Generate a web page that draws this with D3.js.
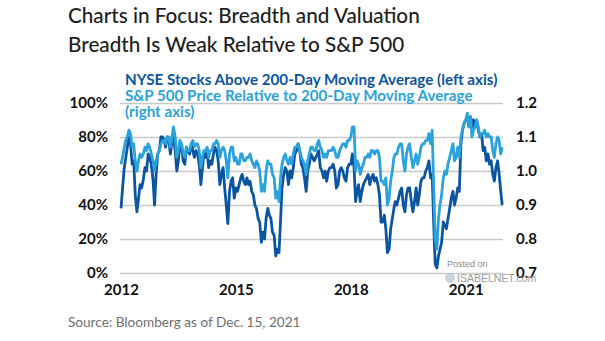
<!DOCTYPE html>
<html>
<head>
<meta charset="utf-8">
<script src="https://cdn.jsdelivr.net/npm/d3@7"></script>
<style>
  body { margin: 0; background: #fff; }
  svg { display: block; font-family: Lato, "Open Sans", sans-serif; }
</style>
</head>
<body>
<svg id="chart" width="605" height="341"></svg>
<script>
// semi-monthly samples
const dates = [
  "2012-01-01","2012-01-16","2012-02-01","2012-02-16","2012-03-01","2012-03-16","2012-04-01","2012-04-16","2012-05-01","2012-05-16","2012-06-01","2012-06-16",
  "2012-07-01","2012-07-16","2012-08-01","2012-08-16","2012-09-01","2012-09-16","2012-10-01","2012-10-16","2012-11-01","2012-11-16","2012-12-01","2012-12-16",
  "2013-01-01","2013-01-16","2013-02-01","2013-02-16","2013-03-01","2013-03-16","2013-04-01","2013-04-16","2013-05-01","2013-05-16","2013-06-01","2013-06-16",
  "2013-07-01","2013-07-16","2013-08-01","2013-08-16","2013-09-01","2013-09-16","2013-10-01","2013-10-16","2013-11-01","2013-11-16","2013-12-01","2013-12-16",
  "2014-01-01","2014-01-16","2014-02-01","2014-02-16","2014-03-01","2014-03-16","2014-04-01","2014-04-16","2014-05-01","2014-05-16","2014-06-01","2014-06-16",
  "2014-07-01","2014-07-16","2014-08-01","2014-08-16","2014-09-01","2014-09-16","2014-10-01","2014-10-16","2014-11-01","2014-11-16","2014-12-01","2014-12-16",
  "2015-01-01","2015-01-16","2015-02-01","2015-02-16","2015-03-01","2015-03-16","2015-04-01","2015-04-16","2015-05-01","2015-05-16","2015-06-01","2015-06-16",
  "2015-07-01","2015-07-16","2015-08-01","2015-08-16","2015-09-01","2015-09-16","2015-10-01","2015-10-16","2015-11-01","2015-11-16","2015-12-01","2015-12-16",
  "2016-01-01","2016-01-16","2016-02-01","2016-02-16","2016-03-01","2016-03-16","2016-04-01","2016-04-16","2016-05-01","2016-05-16","2016-06-01","2016-06-16",
  "2016-07-01","2016-07-16","2016-08-01","2016-08-16","2016-09-01","2016-09-16","2016-10-01","2016-10-16","2016-11-01","2016-11-16","2016-12-01","2016-12-16",
  "2017-01-01","2017-01-16","2017-02-01","2017-02-16","2017-03-01","2017-03-16","2017-04-01","2017-04-16","2017-05-01","2017-05-16","2017-06-01","2017-06-16",
  "2017-07-01","2017-07-16","2017-08-01","2017-08-16","2017-09-01","2017-09-16","2017-10-01","2017-10-16","2017-11-01","2017-11-16","2017-12-01","2017-12-16",
  "2018-01-01","2018-01-16","2018-02-01","2018-02-16","2018-03-01","2018-03-16","2018-04-01","2018-04-16","2018-05-01","2018-05-16","2018-06-01","2018-06-16",
  "2018-07-01","2018-07-16","2018-08-01","2018-08-16","2018-09-01","2018-09-16","2018-10-01","2018-10-16","2018-11-01","2018-11-16","2018-12-01","2018-12-16",
  "2019-01-01","2019-01-16","2019-02-01","2019-02-16","2019-03-01","2019-03-16","2019-04-01","2019-04-16","2019-05-01","2019-05-16","2019-06-01","2019-06-16",
  "2019-07-01","2019-07-16","2019-08-01","2019-08-16","2019-09-01","2019-09-16","2019-10-01","2019-10-16","2019-11-01","2019-11-16","2019-12-01","2019-12-16",
  "2020-01-01","2020-01-16","2020-02-01","2020-02-16","2020-03-01","2020-03-16","2020-04-01","2020-04-16","2020-05-01","2020-05-16","2020-06-01","2020-06-16",
  "2020-07-01","2020-07-16","2020-08-01","2020-08-16","2020-09-01","2020-09-16","2020-10-01","2020-10-16","2020-11-01","2020-11-16","2020-12-01","2020-12-16",
  "2021-01-01","2021-01-16","2021-02-01","2021-02-16","2021-03-01","2021-03-16","2021-04-01","2021-04-16","2021-05-01","2021-05-16","2021-06-01","2021-06-16",
  "2021-07-01","2021-07-16","2021-08-01","2021-08-16","2021-09-01","2021-09-16","2021-10-01","2021-10-16","2021-11-01","2021-11-16","2021-12-01","2021-12-15"
];

// NYSE stocks above 200-day MA, % (left axis)
const nyseAbove200 = [
  38,50,62,68,74,80,76,64,66,46,36,44, 52,50,55,62,60,70,68,64,55,40,58,70,
  72,80,80,78,74,80,78,70,77,80,72,60, 66,76,74,66,64,74,72,70,76,72,68,72,
  70,64,52,62,70,68,72,62,66,64,70,74, 72,66,52,58,62,50,40,29,48,54,56,44,
  50,48,52,56,58,54,52,56,52,54,48,46, 40,38,32,30,18,24,20,32,38,34,32,24,
  22,10,14,12,30,50,58,62,60,52,60,56, 62,70,72,76,72,64,62,56,48,60,64,70,
  68,66,68,70,72,62,60,56,60,54,60,62, 62,64,60,50,52,60,62,60,56,54,62,64,
  64,70,62,42,48,52,42,48,52,54,56,58, 52,56,58,54,56,52,46,30,30,34,26,12,
  14,26,32,38,42,40,44,48,50,40,36,46, 50,50,42,36,42,50,40,46,54,56,56,60,
  62,66,56,58,30,5,3,10,14,18,30,28, 26,32,38,44,48,40,44,50,48,76,84,88,
  90,92,86,92,84,90,86,90,84,80,82,72, 74,66,70,64,66,58,54,62,66,58,48,40
];

// S&P 500 price / 200-day MA (right axis)
const spxRel200 = [
  1.02,1.04,1.07,1.09,1.10,1.12,1.11,1.07,1.08,1.03,1.00,1.03, 1.05,1.04,1.05,1.07,1.06,1.08,1.07,1.05,1.03,1.00,1.03,1.05,
  1.06,1.08,1.09,1.09,1.08,1.10,1.10,1.07,1.10,1.13,1.10,1.04, 1.06,1.09,1.08,1.05,1.04,1.07,1.06,1.06,1.08,1.09,1.07,1.08,
  1.08,1.06,1.01,1.04,1.06,1.06,1.07,1.04,1.06,1.06,1.08,1.08, 1.09,1.08,1.04,1.06,1.07,1.06,1.03,0.98,1.05,1.07,1.07,1.03,
  1.04,1.02,1.02,1.05,1.05,1.03,1.03,1.04,1.04,1.05,1.03,1.02, 1.01,1.03,1.02,1.00,0.94,0.96,0.94,1.00,1.03,1.02,1.02,0.99,
  0.98,0.92,0.94,0.91,0.98,1.02,1.04,1.05,1.03,1.02,1.04,1.02, 1.05,1.07,1.07,1.08,1.06,1.04,1.03,1.02,0.99,1.03,1.05,1.07,
  1.07,1.06,1.06,1.08,1.09,1.07,1.06,1.04,1.05,1.04,1.06,1.06, 1.06,1.07,1.06,1.04,1.04,1.06,1.07,1.08,1.08,1.07,1.09,1.09,
  1.10,1.13,1.13,1.00,1.03,1.02,0.99,1.01,1.02,1.04,1.04,1.05, 1.04,1.06,1.06,1.05,1.06,1.06,1.04,0.97,0.97,0.96,0.98,0.90,
  0.92,0.97,1.00,1.04,1.05,1.05,1.07,1.08,1.08,1.03,1.00,1.05, 1.07,1.08,1.04,1.01,1.03,1.05,1.02,1.04,1.07,1.08,1.08,1.09,
  1.09,1.11,1.08,1.12,0.96,0.80,0.77,0.86,0.90,0.93,0.98,1.00, 0.99,1.02,1.04,1.06,1.08,1.03,1.04,1.07,1.04,1.10,1.12,1.14,
  1.15,1.17,1.13,1.16,1.10,1.12,1.13,1.15,1.13,1.10,1.11,1.11, 1.12,1.10,1.11,1.10,1.10,1.06,1.04,1.08,1.10,1.09,1.05,1.07
];

const leftTicks = [0, 20, 40, 60, 80, 100];
const rightTicks = [0.7, 0.8, 0.9, 1.0, 1.1, 1.2];
const yearTicks = ["2012-01-01", "2015-01-01", "2018-01-01", "2021-01-01"];

const titleLines = ["Charts in Focus: Breadth and Valuation", "Breadth Is Weak Relative to S&P 500"];
const legendLines = [
  { text: "NYSE Stocks Above 200-Day Moving Average (left axis)", series: "nyse" },
  { text: "S&P 500 Price Relative to 200-Day Moving Average", series: "spx" },
  { text: "(right axis)", series: "spx" }
];
const sourceText = "Source: Bloomberg as of Dec. 15, 2021";

const colors = { nyse: "#0b55a0", spx: "#2ba2dc" };

const svg = d3.select("#chart");
const parse = d3.timeParse("%Y-%m-%d");

const nyse = dates.map((d, i) => ({ date: parse(d), v: nyseAbove200[i] }));
const spx = dates.map((d, i) => ({ date: parse(d), v: spxRel200[i] }));

const x = d3.scaleTime()
  .domain([parse("2012-01-01"), parse("2022-01-01")])
  .range([121, 504]);
const yL = d3.scaleLinear().domain([0, 100]).range([273, 103]);
const yR = d3.scaleLinear().domain([0.7, 1.2]).range([273, 103]);

svg.append("rect").attr("width", 605).attr("height", 341).attr("fill", "#fff");

// gridlines
svg.append("g")
  .attr("transform", "translate(120,0)")
  .call(d3.axisLeft(yL).tickValues(leftTicks).tickSize(-383).tickFormat(""))
  .call(g => g.select(".domain").remove())
  .call(g => g.selectAll("line").attr("stroke", "#c9c9cc").attr("stroke-width", 1.5));

// left axis labels
svg.append("g")
  .attr("transform", "translate(108,0)")
  .call(d3.axisLeft(yL).tickValues(leftTicks).tickSize(0).tickPadding(0).tickFormat(d => d + "%"))
  .call(g => g.select(".domain").remove())
  .call(g => g.selectAll("text")
    .attr("font-family", "Lato, sans-serif").attr("font-weight", 700)
    .attr("font-size", 15).attr("fill", "#111"));

// right axis labels
svg.append("g")
  .attr("transform", "translate(516,0)")
  .call(d3.axisRight(yR).tickValues(rightTicks).tickSize(0).tickPadding(0).tickFormat(d3.format(".1f")))
  .call(g => g.select(".domain").remove())
  .call(g => g.selectAll("text")
    .attr("font-family", "Lato, sans-serif").attr("font-weight", 700)
    .attr("font-size", 15).attr("fill", "#111"));

// x axis labels
svg.append("g")
  .attr("transform", "translate(0,284)")
  .call(d3.axisBottom(x).tickValues(yearTicks.map(parse)).tickSize(0).tickPadding(0).tickFormat(d3.timeFormat("%Y")))
  .call(g => g.select(".domain").remove())
  .call(g => g.selectAll("text")
    .attr("font-family", "Lato, sans-serif").attr("font-weight", 700)
    .attr("font-size", 15).attr("fill", "#111"));

// lines
const lineL = d3.line().x(d => x(d.date)).y(d => yL(d.v));
const lineR = d3.line().x(d => x(d.date)).y(d => yR(d.v));

svg.append("path")
  .datum(nyse)
  .attr("d", lineL)
  .attr("fill", "none")
  .attr("stroke", colors.nyse)
  .attr("stroke-width", 2.8)
  .attr("stroke-linejoin", "round");

svg.append("path")
  .datum(spx)
  .attr("d", lineR)
  .attr("fill", "none")
  .attr("stroke", colors.spx)
  .attr("stroke-width", 2.8)
  .attr("stroke-linejoin", "round");

// titles
svg.selectAll(".title")
  .data(titleLines)
  .enter().append("text")
  .attr("class", "title")
  .attr("x", 68)
  .attr("y", (d, i) => 23 + i * 29)
  .attr("font-size", 20.7)
  .attr("font-weight", 500)
  .attr("fill", "#1e1e1e")
  .text(d => d);

// legend
svg.selectAll(".legend")
  .data(legendLines)
  .enter().append("text")
  .attr("class", "legend")
  .attr("x", 125)
  .attr("y", (d, i) => 85 + i * 16)
  .attr("font-size", 15.2)
  .attr("font-weight", 700)
  .attr("fill", d => colors[d.series])
  .text(d => d.text);

// source
svg.append("text")
  .attr("x", 68)
  .attr("y", 327)
  .attr("font-size", 13.6)
  .attr("fill", "#6f6f6f")
  .text(sourceText);

// watermark
svg.append("text").attr("x", 447).attr("y", 267).attr("font-family", "Liberation Sans, sans-serif")
  .attr("font-size", 9).attr("fill", "#8a8a8a").text("Posted on");
svg.append("circle").attr("cx", 450).attr("cy", 278).attr("r", 5).attr("fill", "#b9c9d6").attr("opacity", 0.8);
svg.append("text").attr("x", 457).attr("y", 282).attr("font-family", "Liberation Sans, sans-serif")
  .attr("font-size", 10.5).attr("fill", "#9a9a9a").text("ISABELNET.com");
</script>
</body>
</html>
